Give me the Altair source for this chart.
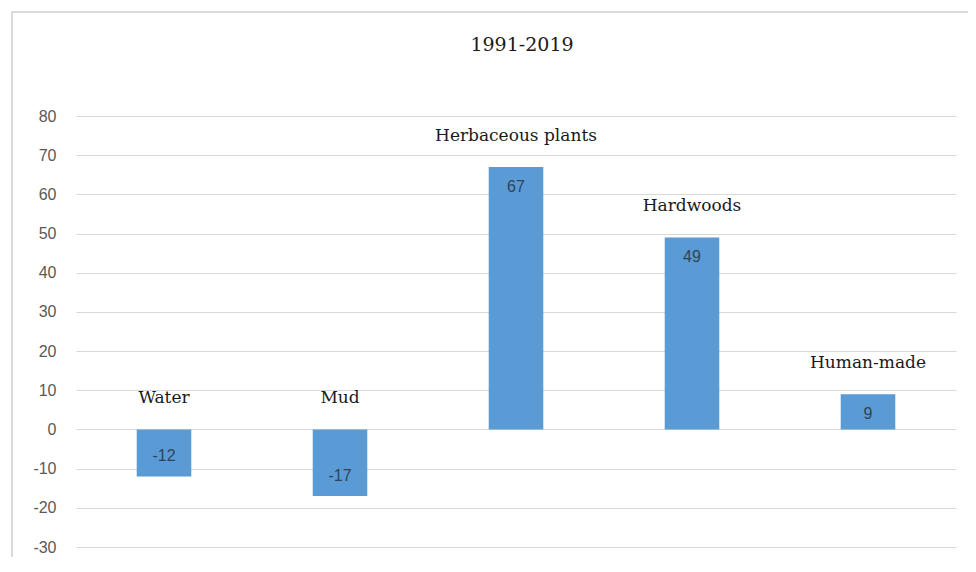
import altair as alt
import pandas as pd

categories = ["Water", "Mud", "Herbaceous plants", "Hardwoods", "Human-made"]
values = [-12, -17, 67, 49, 9]
y_ticks = [-30, -20, -10, 0, 10, 20, 30, 40, 50, 60, 70, 80]
title_text = "1991-2019"

df = pd.DataFrame({"category": categories, "value": values})

x_enc = alt.X("category:N", sort=categories, axis=None,
              scale=alt.Scale(paddingInner=0.69, paddingOuter=0.345))
y_scale = alt.Scale(domain=[-30, 80], nice=False)


def y_axis():
    return alt.Axis(values=y_ticks, tickSize=0, domain=False,
                    gridColor="#D9D9D9", gridWidth=1.2, labelOverlap=False,
                    labelExpr="'' + datum.value",
                    labelColor="#595959", labelFont="Liberation Sans",
                    labelFontSize=16, labelPadding=20)


def y_enc(field):
    return alt.Y(field, scale=y_scale, title=None, axis=y_axis())


base = alt.Chart(df).transform_calculate(
    label="'' + datum.value", top="max(datum.value, 0)"
)

bars = base.mark_bar(color="#5B9BD5").encode(x=x_enc, y=y_enc("value:Q"))

pos_labels = base.transform_filter("datum.value >= 0").mark_text(
    dy=20, font="Liberation Sans", fontSize=16, color="#2F4358", baseline="middle"
).encode(x=x_enc, y=y_enc("value:Q"), text="label:N")

neg_labels = base.transform_filter("datum.value < 0").mark_text(
    dy=-20, font="Liberation Sans", fontSize=16, color="#2F4358", baseline="middle"
).encode(x=x_enc, y=y_enc("value:Q"), text="label:N")

cat_labels = base.mark_text(
    dy=-31, font="DejaVu Serif", fontSize=17, color="#1a1a1a", baseline="middle"
).encode(x=x_enc, y=y_enc("top:Q"), text="category:N")

frame = alt.Chart(df).mark_rect(fill=None, stroke="#D9D9D9", strokeWidth=2).encode(
    x=alt.value(-64), x2=alt.value(900), y=alt.value(-104), y2=alt.value(460)
)

title = alt.Chart(pd.DataFrame({"t": [title_text]})).mark_text(
    font="DejaVu Serif", fontSize=19, color="#1a1a1a", baseline="middle", align="center"
).encode(x=alt.value(446), y=alt.value(-71), text="t:N")

chart = alt.layer(frame, bars, pos_labels, neg_labels, cat_labels, title).properties(
    width=880, height=431,
    autosize=alt.AutoSizeParams(type="none"),
    padding={"left": 68, "top": 108, "right": 12, "bottom": 10},
    background="white",
).configure_view(strokeWidth=0, stroke="transparent")

chart.save("out.html", embed_options={"renderer": "svg", "actions": False})
